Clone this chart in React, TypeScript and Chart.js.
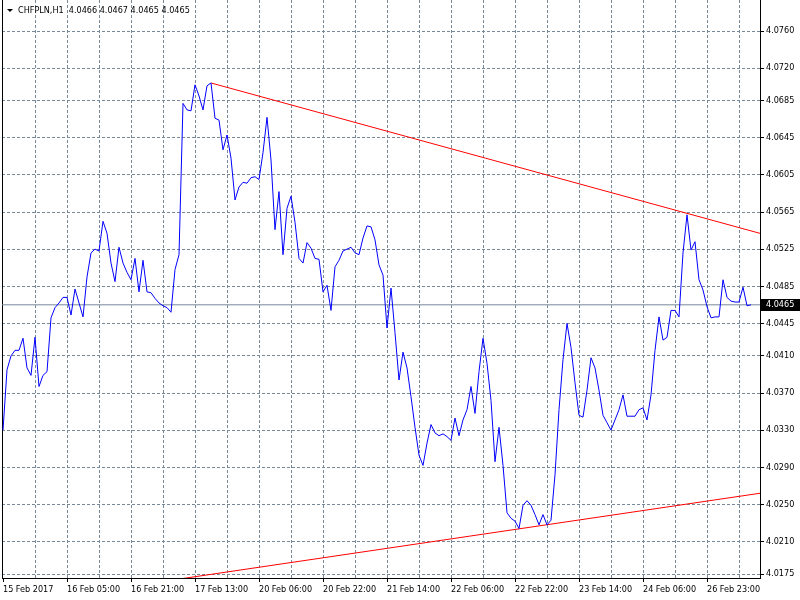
import React, { useEffect, useRef } from "react";
import { Chart, registerables } from "chart.js";

Chart.register(...registerables);

const symbolTitle = "CHFPLN,H1";
const lastQuote = ["4.0466", "4.0467", "4.0465", "4.0465"];

// hourly closes, one per bar
const closes = [
  4.0330, 4.0395, 4.0410, 4.0416, 4.0416, 4.0429, 4.0397, 4.0389, 4.0430, 4.0377,
  4.0389, 4.0393, 4.0451, 4.0462, 4.0467, 4.0473, 4.0473, 4.0454, 4.0482, 4.0467,
  4.0452, 4.0495, 4.0521, 4.0525, 4.0523, 4.0555, 4.0542, 4.0510, 4.0490, 4.0527,
  4.0510, 4.0500, 4.0492, 4.0515, 4.0479, 4.0513, 4.0479, 4.0478, 4.0472, 4.0467,
  4.0464, 4.0462, 4.0457, 4.0503, 4.0519, 4.0682, 4.0675, 4.0674, 4.0702, 4.0690,
  4.0675, 4.0701, 4.0704, 4.0666, 4.0664, 4.0632, 4.0648, 4.0623, 4.0578, 4.0592,
  4.0597, 4.0596, 4.0602, 4.0603, 4.0600, 4.0629, 4.0667, 4.0621, 4.0546, 4.0587,
  4.0519, 4.0569, 4.0582, 4.0554, 4.0515, 4.0510, 4.0532, 4.0526, 4.0515, 4.0514,
  4.0479, 4.0486, 4.0459, 4.0506, 4.0513, 4.0523, 4.0525, 4.0527, 4.0521, 4.0519,
  4.0537, 4.0550, 4.0549, 4.0535, 4.0508, 4.0497, 4.0440, 4.0483, 4.0435, 4.0384,
  4.0414, 4.0397, 4.0366, 4.0333, 4.0303, 4.0292, 4.0316, 4.0336, 4.0327, 4.0324,
  4.0326, 4.0323, 4.0319, 4.0343, 4.0324, 4.0341, 4.0352, 4.0377, 4.0348, 4.0393,
  4.0429, 4.0402, 4.0362, 4.0296, 4.0333, 4.0292, 4.0241, 4.0235, 4.0232, 4.0224,
  4.0249, 4.0254, 4.0249, 4.0239, 4.0228, 4.0239, 4.0228, 4.0233, 4.0282, 4.0352,
  4.0406, 4.0445, 4.0419, 4.0381, 4.0346, 4.0344, 4.0373, 4.0408, 4.0397, 4.0373,
  4.0346, 4.0338, 4.0330, 4.0341, 4.0352, 4.0368, 4.0345, 4.0345, 4.0345, 4.0352,
  4.0354, 4.0341, 4.0368, 4.0416, 4.0452, 4.0427, 4.0430, 4.0459, 4.0459, 4.0452,
  4.0521, 4.0562, 4.0524, 4.0533, 4.0492, 4.0481, 4.0463, 4.0451, 4.0452, 4.0452,
  4.0492, 4.0473, 4.0469, 4.0468, 4.0468, 4.0484, 4.0464, 4.0465,
];

// one label every 16 bars
const xTickLabels = [
  "15 Feb 2017", "16 Feb 05:00", "16 Feb 21:00", "17 Feb 13:00",
  "20 Feb 06:00", "20 Feb 22:00", "21 Feb 14:00", "22 Feb 06:00",
  "22 Feb 22:00", "23 Feb 14:00", "24 Feb 06:00", "26 Feb 23:00",
];
const barsPerLabel = 16;
const barsPerGrid = 8;

const yTickValues = [
  4.0175, 4.0210, 4.0250, 4.0290, 4.0330, 4.0370, 4.0410, 4.0445,
  4.0485, 4.0525, 4.0565, 4.0605, 4.0645, 4.0685, 4.0720, 4.0760,
];

// trend line anchor points (bar index, price)
const upperTrend = [
  { x: 52, y: 4.0704 },
  { x: 189.25, y: 4.0542 },
];
const lowerTrend = [
  { x: 40, y: 4.0167 },
  { x: 189.25, y: 4.0262 },
];

const X_MIN = -0.25;
const X_MAX = 189.25;
const Y_MIN = 4.01707;
const Y_MAX = 4.07934;

const FONT = '"DejaVu Sans Condensed", "Liberation Sans", Arial, sans-serif';
const GRID = "#778899";

const overlayPlugin = {
  id: "mtOverlay",
  afterDraw(chart: any) {
    const ctx = chart.ctx;
    const yScale = chart.scales.y;
    const last = closes[closes.length - 1];
    const py = Math.round(yScale.getPixelForValue(last));
    ctx.save();
    ctx.font = `9px ${FONT}`;
    ctx.textBaseline = "middle";
    ctx.textAlign = "left";
    ctx.fillStyle = "#000";
    ctx.fillRect(yScale.left + 1, py - 6, chart.width - yScale.left - 1, 12);
    ctx.fillStyle = "#fff";
    ctx.fillText(last.toFixed(4), yScale.left + 6, py);
    // header
    ctx.fillStyle = "#000";
    ctx.beginPath();
    ctx.moveTo(7, 9);
    ctx.lineTo(13, 9);
    ctx.lineTo(10, 12);
    ctx.closePath();
    ctx.fill();
    ctx.fillText(`${symbolTitle}  ${lastQuote.join(" ")}`, 18, 11);
    ctx.restore();
  },
};

export default function App() {
  const canvasRef = useRef<HTMLCanvasElement | null>(null);

  useEffect(() => {
    document.body.style.margin = "0";
    const canvas = canvasRef.current;
    if (!canvas) return;
    const last = closes[closes.length - 1];

    const chart = new Chart(canvas, {
      type: "line",
      data: {
        datasets: [
          {
            label: symbolTitle,
            data: closes.map((v, i) => ({ x: i, y: v })),
            borderColor: "#0000ff",
            borderWidth: 1,
            pointRadius: 0,
            tension: 0,
            yAxisID: "y",
          },
          {
            label: "upper",
            data: upperTrend,
            borderColor: "#ff0000",
            borderWidth: 1,
            pointRadius: 0,
            tension: 0,
            yAxisID: "y",
          },
          {
            label: "lower",
            data: lowerTrend,
            borderColor: "#ff0000",
            borderWidth: 1,
            pointRadius: 0,
            tension: 0,
            yAxisID: "y",
          },
          {
            label: "last",
            data: [
              { x: X_MIN, y: last },
              { x: X_MAX, y: last },
            ],
            borderColor: GRID,
            borderWidth: 1,
            pointRadius: 0,
            tension: 0,
            yAxisID: "y",
          },
        ],
      },
      options: {
        animation: false,
        responsive: false,
        maintainAspectRatio: false,
        devicePixelRatio: 1,
        layout: { padding: 0 },
        plugins: {
          legend: { display: false },
          tooltip: { enabled: false },
          title: { display: false },
        },
        scales: {
          x: {
            type: "linear",
            position: "bottom",
            min: X_MIN,
            max: X_MAX,
            afterBuildTicks: (scale: any) => {
              const t = [];
              for (let v = 0; v <= X_MAX; v += barsPerGrid) t.push({ value: v });
              scale.ticks = t;
            },
            afterFit: (scale: any) => {
              scale.height = 22;
              scale.paddingLeft = 0;
              scale.paddingRight = 0;
              scale.paddingTop = 0;
              scale.paddingBottom = 0;
            },
            ticks: {
              autoSkip: false,
              maxRotation: 0,
              minRotation: 0,
              align: "start",
              padding: 2,
              color: "#000",
              font: { family: FONT, size: 9 },
              callback: (value: any) => {
                const v = Number(value);
                return v % barsPerLabel === 0 ? xTickLabels[v / barsPerLabel] ?? "" : "";
              },
            },
            grid: {
              color: (c: any) => (c.tick && c.tick.value === 0 ? "rgba(0,0,0,0)" : GRID),
              lineWidth: 1,
              drawTicks: true,
              tickLength: 4,
              tickColor: (c: any) =>
                c.tick && c.tick.value % barsPerLabel === 0 ? "#000" : "rgba(0,0,0,0)",
            },
            border: { display: true, color: "#000", width: 1, dash: [3, 2] },
          },
          y: {
            type: "linear",
            position: "right",
            min: Y_MIN,
            max: Y_MAX,
            afterBuildTicks: (scale: any) => {
              scale.ticks = yTickValues.map((v) => ({ value: v }));
            },
            afterFit: (scale: any) => {
              scale.width = 40;
              scale.paddingLeft = 0;
              scale.paddingRight = 0;
              scale.paddingTop = 0;
              scale.paddingBottom = 0;
            },
            ticks: {
              autoSkip: false,
              padding: 2,
              color: "#000",
              font: { family: FONT, size: 9 },
              callback: (value: any) => Number(value).toFixed(4),
            },
            grid: {
              color: GRID,
              lineWidth: 1,
              drawTicks: true,
              tickLength: 4,
              tickColor: "#000",
            },
            border: { display: true, color: "#000", width: 1, dash: [3, 2] },
          },
          frameLeft: {
            type: "linear",
            position: "left",
            display: true,
            ticks: { display: false },
            grid: { display: false, drawTicks: false },
            border: { display: true, color: "#000", width: 1 },
            afterFit: (scale: any) => {
              scale.width = 2;
              scale.paddingTop = 0;
              scale.paddingBottom = 0;
            },
          },
        },
      },
      plugins: [overlayPlugin],
    } as any);

    return () => chart.destroy();
  }, []);

  return (
    <div style={{ width: 800, height: 600 }}>
      <canvas ref={canvasRef} width={800} height={600} style={{ display: "block" }} />
    </div>
  );
}
